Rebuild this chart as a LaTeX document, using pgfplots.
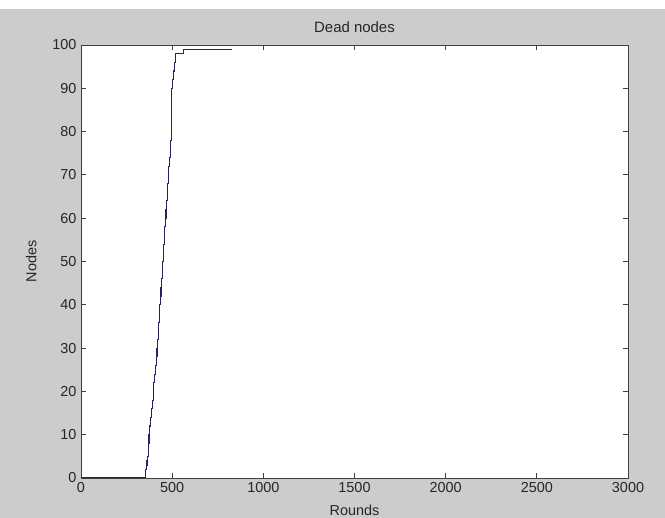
\documentclass[border=0pt]{standalone}
\usepackage{pgfplots}
\pgfplotsset{compat=1.18}
\usepackage{fontspec}
\setmainfont{Liberation Sans}
\definecolor{figgray}{RGB}{204,204,204}
\definecolor{navyline}{RGB}{35,35,95}
\begin{document}
\begin{tikzpicture}
\fill[figgray] (0bp,0bp) rectangle (665bp,518bp);
\fill[white] (0bp,509bp) rectangle (665bp,518bp);
\useasboundingbox (0bp,0bp) rectangle (665bp,518bp);
\begin{axis}[
  at={(81bp,40bp)}, anchor=south west,
  scale only axis, width=547bp, height=433bp,
  xmin=0, xmax=3000, ymin=0, ymax=100,
  xtick={0,500,...,3000}, ytick={0,10,...,100},
  tick align=inside, major tick length=5bp,
  axis background/.style={fill=white},
  axis line style={black!75, line width=0.9pt},
  every tick/.style={black!75, line width=0.8pt},
  tick label style={font=\fontsize{14.5}{16}\selectfont, text=black!85},
  /pgf/number format/assume math mode=true,
  /pgf/number format/set thousands separator={},
  scaled x ticks=false,
  xticklabel style={yshift=-1bp},
  yticklabel style={xshift=-1bp},
  title={Dead nodes},
  title style={font=\fontsize{15}{17}\selectfont, text=black!85, yshift=3bp},
  xlabel={Rounds}, ylabel={Nodes},
  label style={font=\fontsize{14.5}{17}\selectfont, text=black!85},
  xlabel style={yshift=-5bp},
  ylabel style={yshift=9bp},
]
\addplot[const plot, navyline, line width=1.1pt] coordinates {
(0,0) (350,0) (352,1) (355,2) (358,3) (362,4) (365,5) (368,6) (370,8)
(373,10) (378,12) (383,14) (388,16) (392,18) (396,20) (400,22) (405,24)
(410,26) (413,28) (417,30) (420,32) (424,34) (427,36) (430,38) (433,40)
(436,42) (439,44) (442,46) (445,48) (448,50) (451,52) (454,54) (457,56)
(460,58) (463,60) (466,62) (469,64) (472,66) (475,68) (478,70) (482,72)
(486,74) (490,76) (493,78) (494,82) (495,86) (496,90) (500,92) (505,94)
(512,96) (520,98) (560,99) (830,99)
};
\end{axis}
\end{tikzpicture}
\end{document}
